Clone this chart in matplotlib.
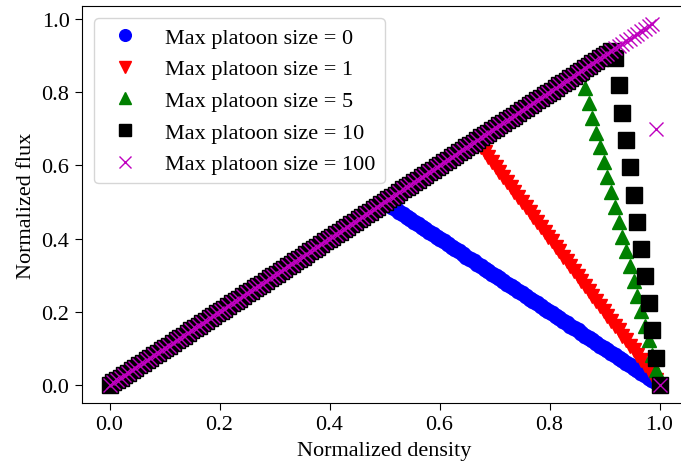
#!/usr/bin/env python3
"""Normalized flux vs density for different max platoon sizes"""
import matplotlib
matplotlib.use('Agg')
import matplotlib.pyplot as plt

# density grid (roughly 149 evenly spaced samples)
density = [
    0.000, 0.007, 0.014, 0.020, 0.027, 0.034, 0.041, 0.047, 0.054, 0.061,
    0.068, 0.074, 0.081, 0.088, 0.095, 0.101, 0.108, 0.115, 0.122, 0.128,
    0.135, 0.142, 0.149, 0.155, 0.162, 0.169, 0.176, 0.182, 0.189, 0.196,
    0.203, 0.209, 0.216, 0.223, 0.230, 0.236, 0.243, 0.250, 0.257, 0.264,
    0.270, 0.277, 0.284, 0.291, 0.297, 0.304, 0.311, 0.318, 0.324, 0.331,
    0.338, 0.345, 0.351, 0.358, 0.365, 0.372, 0.378, 0.385, 0.392, 0.399,
    0.405, 0.412, 0.419, 0.426, 0.432, 0.439, 0.446, 0.453, 0.459, 0.466,
    0.473, 0.480, 0.486, 0.493, 0.500, 0.507, 0.514, 0.520, 0.527, 0.534,
    0.541, 0.547, 0.554, 0.561, 0.568, 0.574, 0.581, 0.588, 0.595, 0.601,
    0.608, 0.615, 0.622, 0.628, 0.635, 0.642, 0.649, 0.655, 0.662, 0.669,
    0.676, 0.682, 0.689, 0.696, 0.703, 0.709, 0.716, 0.723, 0.730, 0.736,
    0.743, 0.750, 0.757, 0.764, 0.770, 0.777, 0.784, 0.791, 0.797, 0.804,
    0.811, 0.818, 0.824, 0.831, 0.838, 0.845, 0.851, 0.858, 0.865, 0.872,
    0.878, 0.885, 0.892, 0.899, 0.905, 0.912, 0.919, 0.926, 0.932, 0.939,
    0.946, 0.953, 0.959, 0.966, 0.973, 0.980, 0.986, 0.993, 1.000,
]

# free-flow branch is shared by every series (flux == density)
free_flow = density

# congested branches (flux from the critical density up to 1.0)
cong_0 = [
    0.493, 0.486, 0.480, 0.473, 0.466, 0.459, 0.453, 0.446, 0.439, 0.432,
    0.426, 0.419, 0.412, 0.405, 0.399, 0.392, 0.385, 0.378, 0.372, 0.365,
    0.358, 0.351, 0.345, 0.338, 0.331, 0.324, 0.318, 0.311, 0.304, 0.297,
    0.291, 0.284, 0.277, 0.270, 0.264, 0.257, 0.250, 0.243, 0.236, 0.230,
    0.223, 0.216, 0.209, 0.203, 0.196, 0.189, 0.182, 0.176, 0.169, 0.162,
    0.155, 0.149, 0.142, 0.135, 0.128, 0.122, 0.115, 0.108, 0.101, 0.095,
    0.088, 0.081, 0.074, 0.068, 0.061, 0.054, 0.047, 0.041, 0.034, 0.027,
    0.020, 0.014, 0.007, 0.000,
]
cong_1 = [
    0.662, 0.649, 0.635, 0.622, 0.608, 0.595, 0.581, 0.568, 0.554, 0.541,
    0.527, 0.514, 0.500, 0.486, 0.473, 0.459, 0.446, 0.432, 0.419, 0.405,
    0.392, 0.378, 0.365, 0.351, 0.338, 0.324, 0.311, 0.297, 0.284, 0.270,
    0.257, 0.243, 0.230, 0.216, 0.203, 0.189, 0.176, 0.162, 0.149, 0.135,
    0.122, 0.108, 0.095, 0.081, 0.068, 0.054, 0.041, 0.027, 0.014, 0.000,
]
cong_5 = [
    0.851, 0.811, 0.770, 0.730, 0.689, 0.649, 0.608, 0.568, 0.527, 0.486,
    0.446, 0.405, 0.365, 0.324, 0.284, 0.243, 0.203, 0.162, 0.122, 0.081,
    0.041, 0.000,
]
cong_10 = [
    0.892, 0.818, 0.743, 0.669, 0.595, 0.520, 0.446, 0.372, 0.297, 0.223,
    0.149, 0.074, 0.000,
]
cong_100 = [0.700, 0.000]

labels = ['Max platoon size = 0', 'Max platoon size = 1',
          'Max platoon size = 5', 'Max platoon size = 10',
          'Max platoon size = 100']


def series(cong):
    """free-flow part followed by the congested part"""
    n_free = len(density) - len(cong)
    return density, free_flow[:n_free] + cong


plt.rcParams['font.family'] = ['Liberation Serif', 'DejaVu Serif']
plt.rcParams['font.size'] = 16

fig = plt.figure(figsize=(6.81, 4.64), dpi=100)
ax = fig.add_axes([82 / 681, 60 / 464, 605 / 681, 397 / 464])

styles = [('bo', cong_0, 10.5), ('rv', cong_1, 10.5), ('g^', cong_5, 10.5),
          ('ks', cong_10, 11.5), ('mx', cong_100, 10)]
for (fmt, cong, ms), lab in zip(styles, labels):
    x, y = series(cong)
    ax.plot(x, y, fmt, markersize=ms, label=lab)

ax.set_xlim(-0.05, 1.05)
ax.set_ylim(-0.049, 1.035)
ax.set_xticks([0.0, 0.2, 0.4, 0.6, 0.8, 1.0])
ax.set_yticks([0.0, 0.2, 0.4, 0.6, 0.8, 1.0])
ax.tick_params(length=5, pad=4)
ax.set_xlabel('Normalized density', labelpad=5)
ax.set_ylabel('Normalized flux')
ax.legend(loc='upper left', markerscale=0.8, borderaxespad=0.55)

fig.savefig('out.png', dpi=100)
